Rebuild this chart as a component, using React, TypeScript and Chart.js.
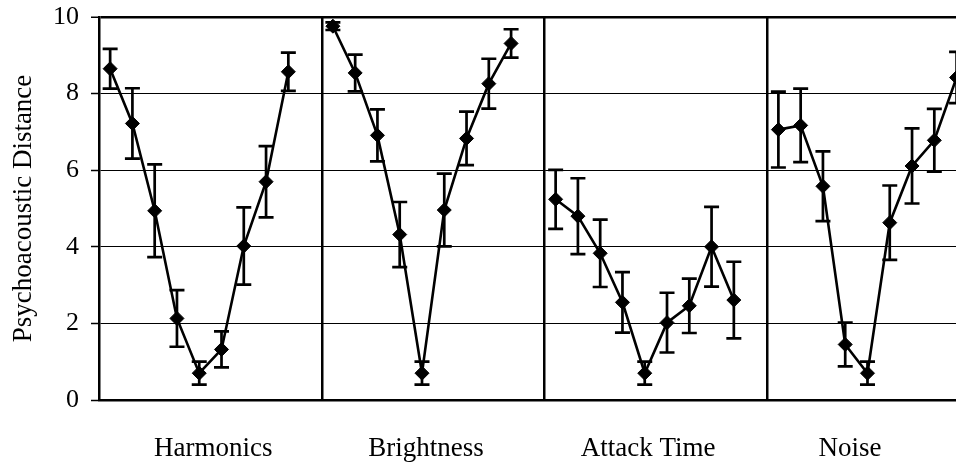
import React, { useEffect, useRef } from "react";
import { Chart, registerables } from "chart.js";

Chart.register(...registerables);

const categories = ["Harmonics", "Brightness", "Attack Time", "Noise"];
const harmonics = [8.65, 7.22, 4.94, 2.13, 0.7, 1.32, 4.02, 5.7, 8.57];
const harmonicsErr = [0.52, 0.92, 1.21, 0.74, 0.3, 0.47, 1.01, 0.93, 0.5];
const brightness = [9.76, 8.54, 6.91, 4.32, 0.7, 4.96, 6.83, 8.26, 9.31];
const brightnessErr = [0.1, 0.48, 0.68, 0.85, 0.3, 0.95, 0.7, 0.65, 0.37];
const attackTime = [5.24, 4.8, 3.83, 2.55, 0.7, 2.02, 2.46, 4.0, 2.61];
const attackTimeErr = [0.77, 0.99, 0.88, 0.79, 0.3, 0.78, 0.71, 1.04, 1.0];
const noise = [7.06, 7.17, 5.58, 1.45, 0.7, 4.63, 6.11, 6.78, 8.42];
const noiseErr = [0.99, 0.96, 0.91, 0.57, 0.3, 0.97, 0.98, 0.82, 0.67];
const yTickValues = [0, 2, 4, 6, 8, 10];
const yAxisTitle = "Psychoacoustic Distance";

const seriesValues = [harmonics, brightness, attackTime, noise];
const seriesErrors = [harmonicsErr, brightnessErr, attackTimeErr, noiseErr];

// layout constants (not data)
const SLOTS_PER_GROUP = 10;
const LABEL_SHIFT = [0.13, -0.32, -0.35, -1.28];
const FONT = "'Liberation Serif', 'Times New Roman', serif";

const errorBarPlugin = {
  id: "errorBars",
  beforeDatasetsDraw(chart: any) {
    const ctx = chart.ctx;
    const ys = chart.scales.y;
    ctx.save();
    ctx.strokeStyle = "#000";
    ctx.lineWidth = 2.7;
    chart.data.datasets.forEach((ds: any, di: number) => {
      const meta = chart.getDatasetMeta(di);
      meta.data.forEach((el: any, i: number) => {
        const v = ds.data[i].y;
        const e = ds.errors[i];
        const top = ys.getPixelForValue(v + e);
        const bot = ys.getPixelForValue(v - e);
        const x = el.x;
        const hw = 7.5;
        ctx.beginPath();
        ctx.moveTo(x, top);
        ctx.lineTo(x, bot);
        ctx.moveTo(x - hw, top);
        ctx.lineTo(x + hw, top);
        ctx.moveTo(x - hw, bot);
        ctx.lineTo(x + hw, bot);
        ctx.stroke();
      });
    });
    ctx.restore();
  },
};

export default function App() {
  const ref = useRef<HTMLCanvasElement | null>(null);

  useEffect(() => {
    if (!ref.current) return;
    const datasets = seriesValues.map((vals, g) => ({
      label: categories[g],
      data: vals.map((v, i) => ({ x: g * SLOTS_PER_GROUP + i, y: v })),
      errors: seriesErrors[g],
      borderColor: "#000",
      backgroundColor: "#000",
      borderWidth: 2.6,
      pointStyle: "rectRot",
      pointRadius: 7,
      pointBorderWidth: 1,
      pointBackgroundColor: "#000",
      pointBorderColor: "#000",
      showLine: true,
      tension: 0,
    }));

    const dividerTicks = categories.slice(1).map((_, g) => (g + 1) * SLOTS_PER_GROUP - 0.5);
    const labelTicks = categories.map((_, g) => g * SLOTS_PER_GROUP + (SLOTS_PER_GROUP - 1) / 2 + LABEL_SHIFT[g]);

    const chart = new Chart(ref.current, {
      type: "scatter",
      data: { datasets: datasets as any },
      plugins: [errorBarPlugin],
      options: {
        animation: false,
        responsive: false,
        layout: { padding: { top: 17, right: 10, left: 0, bottom: 0 } },
        plugins: { legend: { display: false }, tooltip: { enabled: false } },
        scales: {
          x: {
            type: "linear",
            min: -0.5,
            max: categories.length * SLOTS_PER_GROUP - 0.5,
            afterBuildTicks: (scale: any) => {
              const all = [...dividerTicks, ...labelTicks].sort((a, b) => a - b);
              scale.ticks = all.map((v) => ({ value: v }));
            },
            afterFit: (scale: any) => {
              scale.height = 63;
              scale.paddingTop = 0;
              scale.paddingBottom = 0;
              scale.paddingLeft = 0;
              scale.paddingRight = 0;
            },
            border: { display: true, color: "#000", width: 2.5 },
            grid: {
              drawTicks: false,
              color: (c: any) => (c.tick && dividerTicks.includes(c.tick.value) ? "#000" : "rgba(0,0,0,0)"),
              lineWidth: (c: any) => (c.tick && dividerTicks.includes(c.tick.value) ? 2.5 : 0.01),
            },
            ticks: {
              autoSkip: false,
              maxRotation: 0,
              padding: 33,
              color: "#000",
              font: { family: FONT, size: 27 },
              callback: (v: any) => {
                const idx = labelTicks.indexOf(v);
                return idx >= 0 ? categories[idx] : "";
              },
            },
          },
          y: {
            min: 0,
            max: 10,
            afterBuildTicks: (scale: any) => {
              scale.ticks = yTickValues.map((v) => ({ value: v }));
            },
            afterFit: (scale: any) => {
              scale.width = 99;
              scale.paddingTop = 0;
              scale.paddingBottom = 0;
            },
            border: { display: true, color: "#000", width: 2.5 },
            grid: {
              color: "#000",
              lineWidth: (c: any) => (c.tick && c.tick.value === 10 ? 2.5 : 1),
              tickColor: "#000",
              tickWidth: 1.5,
              tickLength: 8,
            },
            ticks: {
              padding: 12,
              color: "#000",
              font: { family: FONT, size: 26 },
            },
            title: {
              display: true,
              text: yAxisTitle,
              color: "#000",
              font: { family: FONT, size: 27 },
              padding: { top: 8, bottom: 0 },
            },
          },
        },
      } as any,
    });
    return () => chart.destroy();
  }, []);

  return (
    <div
      style={{
        position: "fixed",
        left: 0,
        top: 0,
        width: 956,
        height: 463,
        overflow: "hidden",
        background: "#fff",
      }}
    >
      <canvas ref={ref} width={1000} height={463} style={{ display: "block" }} />
    </div>
  );
}
